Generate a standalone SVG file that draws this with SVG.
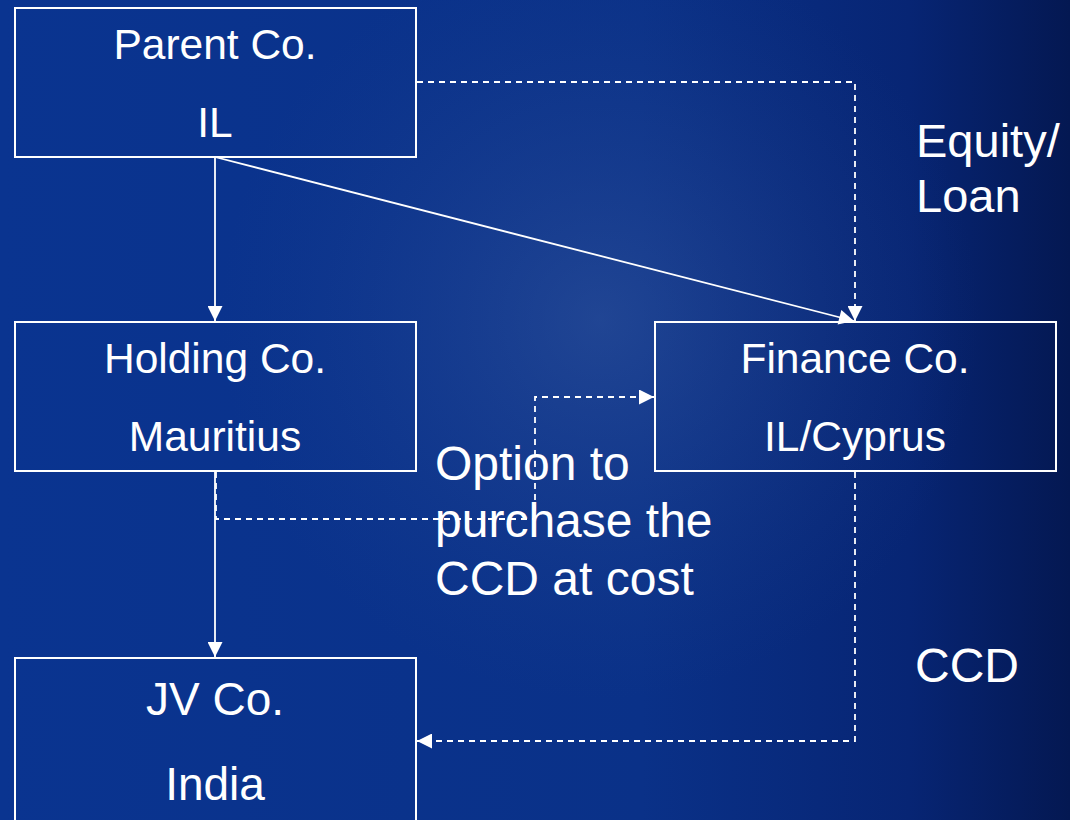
<svg xmlns="http://www.w3.org/2000/svg" width="1070" height="820" viewBox="0 0 1070 820">
<defs>
<linearGradient id="bg" x1="0" y1="0" x2="1" y2="0">
<stop offset="0" stop-color="#0a3490"/>
<stop offset="0.6" stop-color="#0a3188"/>
<stop offset="0.85" stop-color="#072574"/>
<stop offset="1" stop-color="#041852"/>
</linearGradient>
<radialGradient id="glow" cx="600" cy="320" r="380" gradientUnits="userSpaceOnUse">
<stop offset="0" stop-color="#4a6aa8" stop-opacity="0.35"/>
<stop offset="0.5" stop-color="#3a5a9e" stop-opacity="0.18"/>
<stop offset="1" stop-color="#2a4a90" stop-opacity="0"/>
</radialGradient>
<marker id="ah" viewBox="0 0 10 10" refX="10" refY="5" markerWidth="17" markerHeight="15" markerUnits="userSpaceOnUse" orient="auto">
<path d="M0,0 L10,5 L0,10 Z" fill="#ffffff"/>
</marker>
<style>
.box{fill:none;stroke:#ffffff;stroke-width:2}
.t{fill:#ffffff;font-family:"Liberation Sans",Arial,sans-serif;text-anchor:middle}
.n{font-size:42.5px}
.j{font-size:46px}
.l{fill:#ffffff;font-family:"Liberation Sans",Arial,sans-serif;text-anchor:start}
.solid{fill:none;stroke:#ffffff;stroke-width:1.8}
.dash{fill:none;stroke:#ffffff;stroke-width:1.8;stroke-dasharray:6 5}
</style>
</defs>
<rect width="1070" height="820" fill="url(#bg)"/>
<rect width="1070" height="820" fill="url(#glow)"/>

<g id="connectors">
<path class="solid" d="M215,157 L215,321" marker-end="url(#ah)"/>
<path class="solid" d="M215,157 L854,321" marker-end="url(#ah)"/>
<path class="dash" d="M417,82 L855,82 L855,321" marker-end="url(#ah)"/>
<path class="solid" d="M215,471 L215,657" marker-end="url(#ah)"/>
<path class="dash" d="M216,472 L216,519 L535,519 L535,397 L654,397" marker-end="url(#ah)"/>
<path class="dash" d="M855,472 L855,741 L417,741" marker-end="url(#ah)"/>
</g>

<g id="parent">
<rect class="box" x="15" y="8" width="401" height="149"/>
<text class="t n" x="215" y="59">Parent Co.</text>
<text class="t n" x="215" y="137">IL</text>
</g>
<g id="holding">
<rect class="box" x="15" y="322" width="401" height="149"/>
<text class="t n" x="215" y="373">Holding Co.</text>
<text class="t n" x="215" y="451">Mauritius</text>
</g>
<g id="finance">
<rect class="box" x="655" y="322" width="401" height="149"/>
<text class="t n" x="855" y="373">Finance Co.</text>
<text class="t n" x="855" y="451">IL/Cyprus</text>
</g>
<g id="jv">
<rect class="box" x="15" y="658" width="401" height="170"/>
<text class="t j" x="215" y="715">JV Co.</text>
<text class="t j" x="215" y="800">India</text>
</g>

<g id="labels">
<text class="l" x="916" y="157" font-size="47">Equity/</text>
<text class="l" x="916" y="212" font-size="47">Loan</text>
<text class="l" x="915" y="682" font-size="48">CCD</text>
<text class="l" x="435" y="480" font-size="48">Option to</text>
<text class="l" x="435" y="537" font-size="48">purchase the</text>
<text class="l" x="435" y="595" font-size="48">CCD at cost</text>
</g>
</svg>
